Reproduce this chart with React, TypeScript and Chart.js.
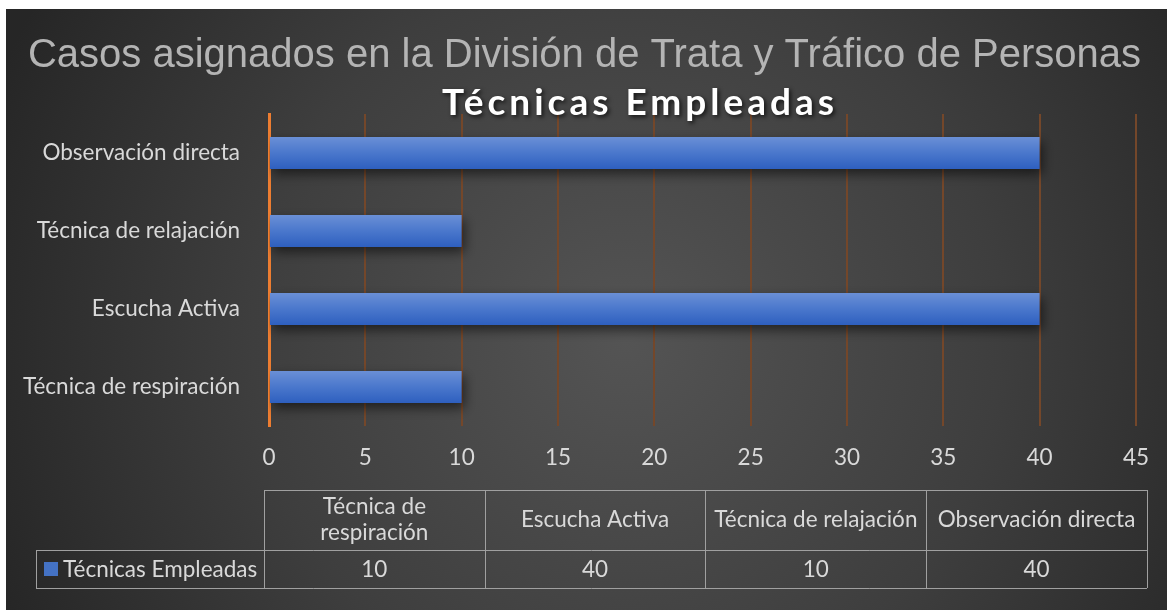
import React, { useEffect, useRef } from "react";
import { Chart, registerables } from "chart.js";

Chart.register(...registerables);

const mainTitle = "Casos asignados en la División de Trata y Tráfico de Personas";
const seriesName = "Técnicas Empleadas";
const categories = [
  "Técnica de respiración",
  "Escucha Activa",
  "Técnica de relajación",
  "Observación directa",
];
const tableHeaders = [
  ["Técnica de", "respiración"],
  ["Escucha Activa"],
  ["Técnica de relajación"],
  ["Observación directa"],
];
const values = [10, 40, 10, 40];
const xMin = 0;
const xMax = 45;
const xStep = 5;

const FONT = "Lato, 'Open Sans', sans-serif";
const TEXT = "#d9d9d9";
const FS = 22.5;

const bgPlugin = {
  id: "bg",
  beforeDraw(chart: any) {
    const { ctx, width, height } = chart;
    ctx.save();
    const g = ctx.createRadialGradient(620, 330, 0, 620, 330, 680);
    g.addColorStop(0, "#545454");
    g.addColorStop(0.55, "#3e3e3e");
    g.addColorStop(1, "#262626");
    ctx.fillStyle = g;
    ctx.fillRect(0, 0, width, height);
    ctx.restore();
  },
};

const shadowPlugin = {
  id: "barShadow",
  beforeDatasetsDraw(chart: any) {
    const ctx = chart.ctx;
    ctx.save();
    ctx.shadowColor = "rgba(0,0,0,0.55)";
    ctx.shadowBlur = 12;
    ctx.shadowOffsetX = 3;
    ctx.shadowOffsetY = 5;
  },
  afterDatasetsDraw(chart: any) {
    chart.ctx.restore();
  },
};

const overlayPlugin = {
  id: "overlay",
  afterDraw(chart: any) {
    const { ctx, chartArea: ca, width } = chart;
    ctx.save();
    // main title
    ctx.fillStyle = "#b4b4b4";
    ctx.font = "40px 'Liberation Sans', Arial, sans-serif";
    ctx.textAlign = "center";
    ctx.textBaseline = "alphabetic";
    ctx.fillText(mainTitle, width / 2 - 2, 58);

    // subtitle
    ctx.save();
    ctx.font = `bold 37px ${FONT}`;
    (ctx as any).letterSpacing = "4px";
    ctx.shadowColor = "rgba(0,0,0,0.7)";
    ctx.shadowBlur = 4;
    ctx.shadowOffsetX = 2;
    ctx.shadowOffsetY = 2;
    ctx.fillStyle = "#ffffff";
    ctx.fillText(seriesName, 634, 106);
    ctx.restore();

    // data table
    const left = ca.left - 5;
    const right = ca.right + 11;
    const top = ca.bottom + 64;
    const mid = top + 60;
    const bottom = mid + 38;
    const legLeft = 30;
    const n = chart.data.labels.length;
    const cw = (right - left) / n;
    ctx.strokeStyle = "#a0a0a0";
    ctx.lineWidth = 1;
    ctx.beginPath();
    const hl = (x1: number, x2: number, y: number) => {
      ctx.moveTo(x1, Math.round(y) + 0.5);
      ctx.lineTo(x2, Math.round(y) + 0.5);
    };
    const vl = (x: number, y1: number, y2: number) => {
      ctx.moveTo(Math.round(x) + 0.5, y1);
      ctx.lineTo(Math.round(x) + 0.5, y2);
    };
    hl(left, right, top);
    hl(legLeft, right, mid);
    hl(legLeft, right, bottom);
    vl(legLeft, mid, bottom);
    for (let i = 0; i <= n; i++) vl(left + i * cw, top, bottom);
    ctx.stroke();

    ctx.fillStyle = TEXT;
    ctx.font = `${FS}px ${FONT}`;
    ctx.textAlign = "center";
    ctx.textBaseline = "middle";
    const ds = chart.data.datasets[0];
    for (let i = 0; i < n; i++) {
      const cx = left + (i + 0.5) * cw;
      const lines = tableHeaders[i];
      const lh = 26;
      const cy = (top + mid) / 2;
      lines.forEach((t, k) => {
        ctx.fillText(t, cx, cy + (k - (lines.length - 1) / 2) * lh);
      });
      ctx.fillText(String(ds.data[i]), cx, (mid + bottom) / 2 + 1);
    }
    // legend cell
    ctx.fillStyle = "#4472c4";
    ctx.fillRect(legLeft + 8, mid + 12, 14, 14);
    ctx.fillStyle = TEXT;
    ctx.textAlign = "left";
    ctx.fillText(ds.label, legLeft + 27, (mid + bottom) / 2 + 1);
    ctx.restore();
  },
};

export default function App() {
  const ref = useRef<HTMLCanvasElement | null>(null);
  useEffect(() => {
    if (!ref.current) return;
    const chart = new Chart(ref.current, {
      type: "bar",
      data: {
        labels: categories,
        datasets: [
          {
            label: seriesName,
            data: values,
            backgroundColor: (c: any) => {
              const chart = c.chart;
              const ys = chart.scales && chart.scales.y;
              if (!ys || c.dataIndex === undefined) return "#4472c4";
              const y = ys.getPixelForValue(c.dataIndex);
              if (!isFinite(y)) return "#4472c4";
              const g = chart.ctx.createLinearGradient(0, y - 16, 0, y + 16);
              g.addColorStop(0, "#6a8fd6");
              g.addColorStop(0.5, "#4a77cc");
              g.addColorStop(1, "#2e5fbf");
              return g;
            },
            borderWidth: 0,
            barPercentage: 0.41,
            categoryPercentage: 1,
          },
        ],
      },
      options: {
        indexAxis: "y",
        animation: false,
        responsive: true,
        maintainAspectRatio: false,
        layout: { padding: { left: 0, right: 30, top: 105, bottom: 134 } },
        plugins: {
          legend: { display: false },
          title: { display: false },
          tooltip: { enabled: false },
        },
        scales: {
          x: {
            min: xMin,
            max: xMax,
            ticks: {
              stepSize: xStep,
              color: TEXT,
              font: { family: FONT, size: FS },
              padding: 18,
            },
            grid: { color: "#74472a", lineWidth: 2, drawTicks: false },
            border: { display: false },
            afterFit: (s: any) => {
              s.height = 50;
            },
          },
          y: {
            reverse: true,
            ticks: {
              color: TEXT,
              font: { family: FONT, size: FS },
              padding: 29,
            },
            grid: { display: false, drawTicks: false },
            border: { display: true, color: "#ed7d31", width: 3 },
            afterFit: (s: any) => {
              s.width = 263;
            },
          },
        },
      },
      plugins: [bgPlugin, shadowPlugin, overlayPlugin],
    } as any);
    return () => chart.destroy();
  }, []);
  return (
    <div
      style={{
        position: "absolute",
        left: 6,
        top: 9,
        width: 1161,
        height: 601,
      }}
    >
      <canvas ref={ref} />
    </div>
  );
}
